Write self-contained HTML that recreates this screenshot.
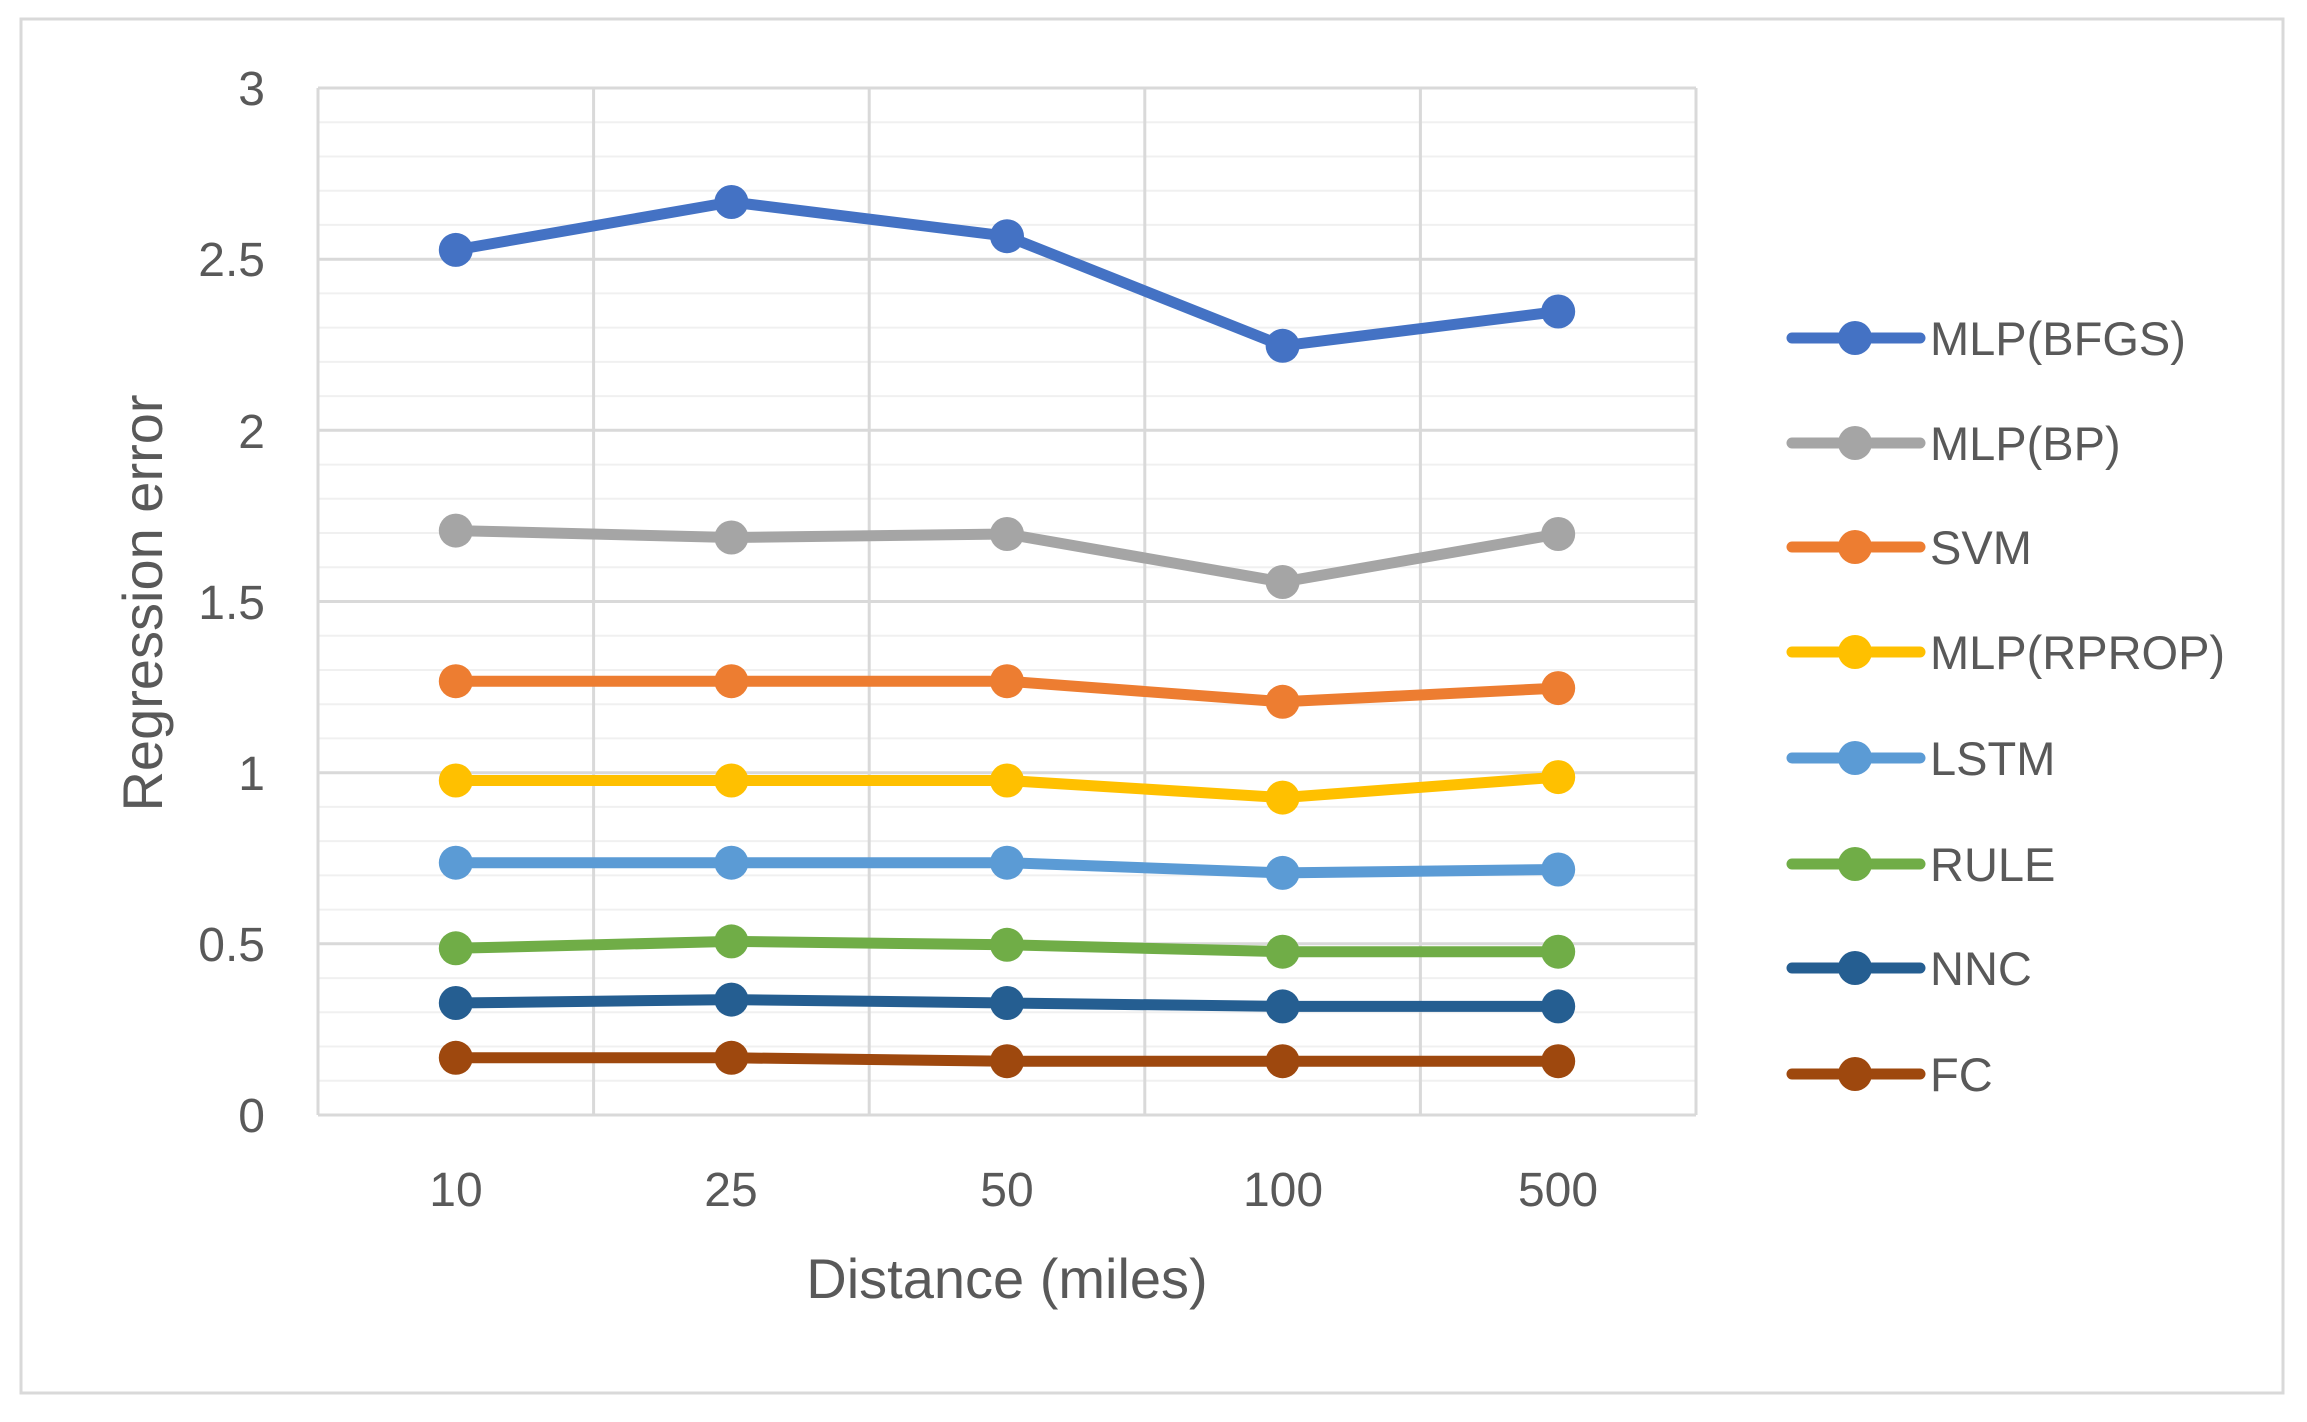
<!DOCTYPE html>
<html><head><meta charset="utf-8"><style>body{margin:0;background:#fff}svg{display:block}</style></head><body>
<svg width="2307" height="1422" xmlns="http://www.w3.org/2000/svg" font-family="Liberation Sans, sans-serif" fill="#595959">
<rect x="0" y="0" width="2307" height="1422" fill="#fff"/>
<rect x="21" y="19" width="2262" height="1374" fill="none" stroke="#d9d9d9" stroke-width="3"/>
<g stroke="#f0f0f0" stroke-width="2">
<line x1="318" x2="1696" y1="1080.8" y2="1080.8"/><line x1="318" x2="1696" y1="1046.5" y2="1046.5"/><line x1="318" x2="1696" y1="1012.3" y2="1012.3"/><line x1="318" x2="1696" y1="978.1" y2="978.1"/>
<line x1="318" x2="1696" y1="909.6" y2="909.6"/><line x1="318" x2="1696" y1="875.4" y2="875.4"/><line x1="318" x2="1696" y1="841.1" y2="841.1"/><line x1="318" x2="1696" y1="806.9" y2="806.9"/>
<line x1="318" x2="1696" y1="738.4" y2="738.4"/><line x1="318" x2="1696" y1="704.2" y2="704.2"/><line x1="318" x2="1696" y1="670" y2="670"/><line x1="318" x2="1696" y1="635.7" y2="635.7"/>
<line x1="318" x2="1696" y1="567.3" y2="567.3"/><line x1="318" x2="1696" y1="533" y2="533"/><line x1="318" x2="1696" y1="498.8" y2="498.8"/><line x1="318" x2="1696" y1="464.6" y2="464.6"/>
<line x1="318" x2="1696" y1="396.1" y2="396.1"/><line x1="318" x2="1696" y1="361.9" y2="361.9"/><line x1="318" x2="1696" y1="327.6" y2="327.6"/><line x1="318" x2="1696" y1="293.4" y2="293.4"/>
<line x1="318" x2="1696" y1="224.9" y2="224.9"/><line x1="318" x2="1696" y1="190.7" y2="190.7"/><line x1="318" x2="1696" y1="156.5" y2="156.5"/><line x1="318" x2="1696" y1="122.2" y2="122.2"/>
</g>
<g stroke="#d9d9d9" stroke-width="3">
<line x1="318" x2="1696" y1="1115" y2="1115"/><line x1="318" x2="1696" y1="943.8" y2="943.8"/><line x1="318" x2="1696" y1="772.7" y2="772.7"/><line x1="318" x2="1696" y1="601.5" y2="601.5"/><line x1="318" x2="1696" y1="430.3" y2="430.3"/><line x1="318" x2="1696" y1="259.2" y2="259.2"/><line x1="318" x2="1696" y1="88" y2="88"/>
<line x1="318" x2="318" y1="88" y2="1115"/><line x1="593.6" x2="593.6" y1="88" y2="1115"/><line x1="869.2" x2="869.2" y1="88" y2="1115"/><line x1="1144.8" x2="1144.8" y1="88" y2="1115"/><line x1="1420.4" x2="1420.4" y1="88" y2="1115"/><line x1="1696" x2="1696" y1="88" y2="1115"/>
</g>
<g fill="none" stroke-width="11" stroke-linejoin="round">
<polyline stroke="#4472C4" points="455.8,249.9 731.4,202 1007,236.2 1282.6,345.8 1558.2,311.5"/>
<polyline stroke="#A5A5A5" points="455.8,530.6 731.4,537.5 1007,534 1282.6,582 1558.2,534"/>
<polyline stroke="#ED7D31" points="455.8,681.2 731.4,681.2 1007,681.2 1282.6,701.8 1558.2,688.1"/>
<polyline stroke="#FFC000" points="455.8,780.5 731.4,780.5 1007,780.5 1282.6,797.6 1558.2,777.1"/>
<polyline stroke="#5B9BD5" points="455.8,862.7 731.4,862.7 1007,862.7 1282.6,872.9 1558.2,869.5"/>
<polyline stroke="#70AD47" points="455.8,948.3 731.4,941.4 1007,944.8 1282.6,951.7 1558.2,951.7"/>
<polyline stroke="#255E91" points="455.8,1003 731.4,999.6 1007,1003 1282.6,1006.4 1558.2,1006.4"/>
<polyline stroke="#9E480E" points="455.8,1057.8 731.4,1057.8 1007,1061.2 1282.6,1061.2 1558.2,1061.2"/>
</g>
<g fill="#4472C4"><circle cx="455.8" cy="249.9" r="17"/><circle cx="731.4" cy="202" r="17"/><circle cx="1007" cy="236.2" r="17"/><circle cx="1282.6" cy="345.8" r="17"/><circle cx="1558.2" cy="311.5" r="17"/></g>
<g fill="#A5A5A5"><circle cx="455.8" cy="530.6" r="17"/><circle cx="731.4" cy="537.5" r="17"/><circle cx="1007" cy="534" r="17"/><circle cx="1282.6" cy="582" r="17"/><circle cx="1558.2" cy="534" r="17"/></g>
<g fill="#ED7D31"><circle cx="455.8" cy="681.2" r="17"/><circle cx="731.4" cy="681.2" r="17"/><circle cx="1007" cy="681.2" r="17"/><circle cx="1282.6" cy="701.8" r="17"/><circle cx="1558.2" cy="688.1" r="17"/></g>
<g fill="#FFC000"><circle cx="455.8" cy="780.5" r="17"/><circle cx="731.4" cy="780.5" r="17"/><circle cx="1007" cy="780.5" r="17"/><circle cx="1282.6" cy="797.6" r="17"/><circle cx="1558.2" cy="777.1" r="17"/></g>
<g fill="#5B9BD5"><circle cx="455.8" cy="862.7" r="17"/><circle cx="731.4" cy="862.7" r="17"/><circle cx="1007" cy="862.7" r="17"/><circle cx="1282.6" cy="872.9" r="17"/><circle cx="1558.2" cy="869.5" r="17"/></g>
<g fill="#70AD47"><circle cx="455.8" cy="948.3" r="17"/><circle cx="731.4" cy="941.4" r="17"/><circle cx="1007" cy="944.8" r="17"/><circle cx="1282.6" cy="951.7" r="17"/><circle cx="1558.2" cy="951.7" r="17"/></g>
<g fill="#255E91"><circle cx="455.8" cy="1003" r="17"/><circle cx="731.4" cy="999.6" r="17"/><circle cx="1007" cy="1003" r="17"/><circle cx="1282.6" cy="1006.4" r="17"/><circle cx="1558.2" cy="1006.4" r="17"/></g>
<g fill="#9E480E"><circle cx="455.8" cy="1057.8" r="17"/><circle cx="731.4" cy="1057.8" r="17"/><circle cx="1007" cy="1061.2" r="17"/><circle cx="1282.6" cy="1061.2" r="17"/><circle cx="1558.2" cy="1061.2" r="17"/></g>
<g font-size="48" text-anchor="end">
<text x="265" y="1132">0</text><text x="265" y="961">0.5</text><text x="265" y="790">1</text>
<text x="265" y="619">1.5</text><text x="265" y="448">2</text><text x="265" y="276">2.5</text><text x="265" y="105">3</text>
</g>
<g font-size="48" text-anchor="middle">
<text x="456" y="1206">10</text><text x="731" y="1206">25</text><text x="1007" y="1206">50</text>
<text x="1283" y="1206">100</text><text x="1558" y="1206">500</text>
</g>
<text x="1007" y="1298" font-size="56" text-anchor="middle">Distance (miles)</text>
<text transform="translate(162,603) rotate(-90)" font-size="56" text-anchor="middle">Regression error</text>
<g stroke-width="11" stroke-linecap="round">
<line x1="1792" x2="1920" y1="338" y2="338" stroke="#4472C4"/>
<line x1="1792" x2="1920" y1="443" y2="443" stroke="#A5A5A5"/>
<line x1="1792" x2="1920" y1="547" y2="547" stroke="#ED7D31"/>
<line x1="1792" x2="1920" y1="652" y2="652" stroke="#FFC000"/>
<line x1="1792" x2="1920" y1="758" y2="758" stroke="#5B9BD5"/>
<line x1="1792" x2="1920" y1="864" y2="864" stroke="#70AD47"/>
<line x1="1792" x2="1920" y1="968" y2="968" stroke="#255E91"/>
<line x1="1792" x2="1920" y1="1074" y2="1074" stroke="#9E480E"/>
</g>
<circle cx="1855" cy="338" r="17" fill="#4472C4"/><circle cx="1855" cy="443" r="17" fill="#A5A5A5"/><circle cx="1855" cy="547" r="17" fill="#ED7D31"/><circle cx="1855" cy="652" r="17" fill="#FFC000"/><circle cx="1855" cy="758" r="17" fill="#5B9BD5"/><circle cx="1855" cy="864" r="17" fill="#70AD47"/><circle cx="1855" cy="968" r="17" fill="#255E91"/><circle cx="1855" cy="1074" r="17" fill="#9E480E"/>
<g font-size="47">
<text x="1930" y="355">MLP(BFGS)</text><text x="1930" y="460">MLP(BP)</text><text x="1930" y="564">SVM</text><text x="1930" y="669">MLP(RPROP)</text>
<text x="1930" y="775">LSTM</text><text x="1930" y="881">RULE</text><text x="1930" y="985">NNC</text><text x="1930" y="1091">FC</text>
</g>
</svg>
</body></html>
